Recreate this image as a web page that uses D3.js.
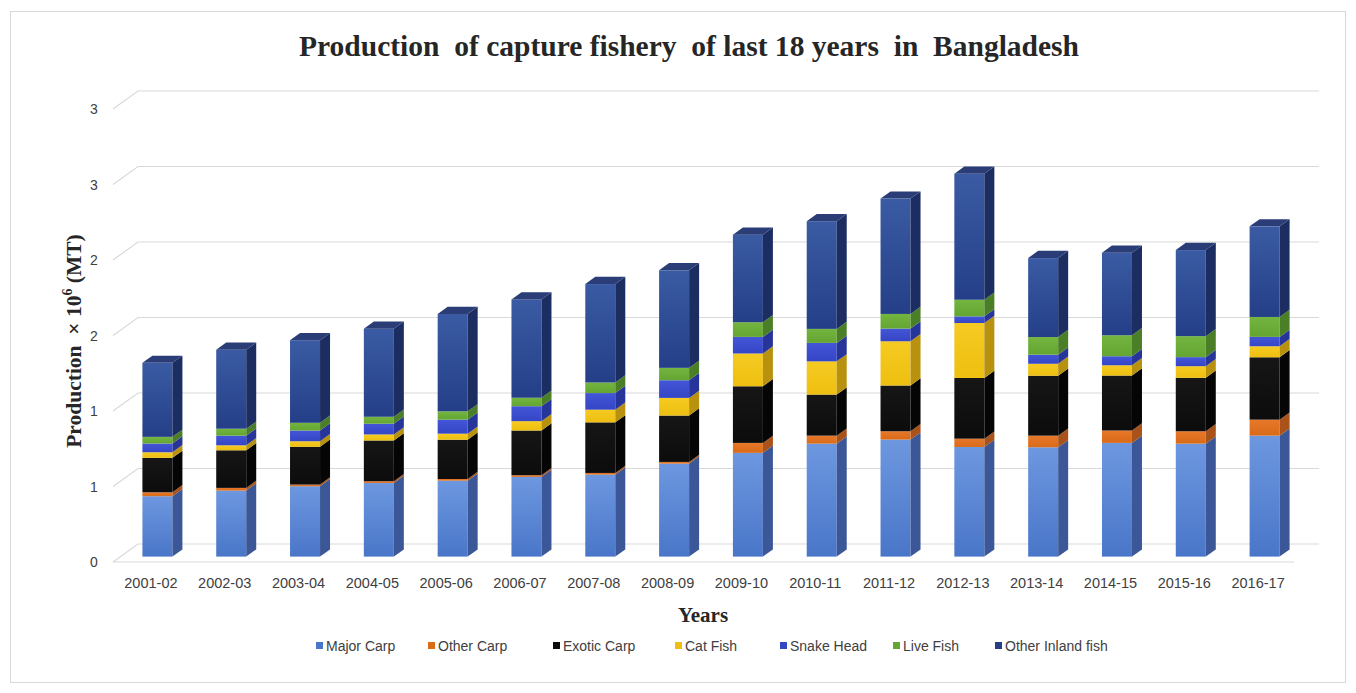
<!DOCTYPE html>
<html>
<head>
<meta charset="utf-8">
<script src="https://cdn.jsdelivr.net/npm/d3@7"></script>
<style>
  body { margin: 0; background: #fff; }
  svg { display: block; }
</style>
</head>
<body>
<div class="fish-chart"></div>
<script>
// years on the x axis
const years = ["2001-02","2002-03","2003-04","2004-05","2005-06","2006-07","2007-08","2008-09",
               "2009-10","2010-11","2011-12","2012-13","2013-14","2014-15","2015-16","2016-17"];

// production x 10^6 MT
const majorCarp   = [0.400,0.437,0.466,0.488,0.503,0.528,0.543,0.616,0.687,0.748,0.775,0.726,0.724,0.753,0.748,0.801];
const otherCarp   = [0.026,0.018,0.011,0.011,0.011,0.011,0.011,0.011,0.066,0.053,0.055,0.055,0.077,0.082,0.082,0.106];
const exoticCarp  = [0.228,0.249,0.250,0.270,0.260,0.296,0.335,0.307,0.375,0.272,0.303,0.402,0.397,0.364,0.354,0.413];
const catFish     = [0.037,0.033,0.037,0.040,0.040,0.062,0.084,0.117,0.217,0.220,0.293,0.364,0.079,0.068,0.077,0.073];
const snakeHead   = [0.058,0.064,0.071,0.071,0.093,0.099,0.110,0.117,0.110,0.122,0.084,0.044,0.060,0.060,0.060,0.062];
const liveFish    = [0.044,0.046,0.051,0.046,0.055,0.056,0.070,0.082,0.097,0.093,0.097,0.110,0.117,0.139,0.139,0.132];
const otherInland = [0.490,0.523,0.547,0.583,0.645,0.651,0.652,0.646,0.580,0.713,0.764,0.834,0.523,0.546,0.570,0.600];

const seriesNames = ["Major Carp","Other Carp","Exotic Carp","Cat Fish","Snake Head","Live Fish","Other Inland fish"];
const seriesValues = [majorCarp, otherCarp, exoticCarp, catFish, snakeHead, liveFish, otherInland];

// y ticks (the source rounds its labels)
const yTicks = [0, 0.5, 1, 1.5, 2, 2.5, 3];
const yTickLabels = ["0","1","1","2","2","3","3"];

// colours: front face (light, dark for gradient), side face
const frontTop  = ["#6d97df","#e8782a","#161616","#f5ca22","#4456d8","#74b540","#3a5ba3"];
const frontBot  = ["#4a76c9","#d86a18","#0c0c0c","#eebf10","#3446c4","#64a533","#243f88"];
const sideCol   = ["#3b5797","#a9521a","#050505","#b8920e","#27349a","#4b7f27","#1c2d62"];
const topCol    = "#2a3d76";

const width = 1356, height = 693;
const svg = d3.select(".fish-chart").append("svg")
  .attr("width", width)
  .attr("height", height)
  .attr("viewBox", [0, 0, width, height]);

// chart frame
svg.append("rect")
  .attr("x", 10.5).attr("y", 11.5)
  .attr("width", 1335).attr("height", 671)
  .attr("fill", "#fff")
  .attr("stroke", "#d9d9d9");

// 3d layout: front floor line and depth offset
const left = 113, right = 1294;
const depthX = 25, depthY = 18;

const x = d3.scaleBand().domain(years).range([left, right]).padding(0);
const y = d3.scaleLinear().domain([0, 3]).range([562, 109]);

// gridlines on the back wall with the diagonal on the left side wall
svg.append("g").selectAll("path")
  .data(yTicks)
  .join("path")
  .attr("d", t => `M${left},${y(t)} L${left + depthX},${y(t) - depthY} L${right + depthX},${y(t) - depthY}`)
  .attr("fill", "none")
  .attr("stroke", "#d9d9d9")
  .attr("stroke-width", 1.2);

// front edge of the floor
svg.append("line")
  .attr("x1", left).attr("x2", right)
  .attr("y1", y(0)).attr("y2", y(0))
  .attr("stroke", "#d9d9d9")
  .attr("stroke-width", 1.2);

// y tick labels
svg.append("g").selectAll("text")
  .data(yTicks)
  .join("text")
  .attr("x", 94)
  .attr("y", t => y(t) + 5)
  .attr("text-anchor", "middle")
  .attr("font-family", "Liberation Sans, Arial, sans-serif")
  .attr("font-size", 14)
  .attr("fill", "#404040")
  .text((t, i) => yTickLabels[i]);

// x tick labels
svg.append("g").selectAll("text")
  .data(years)
  .join("text")
  .attr("x", d => x(d) + x.bandwidth() / 2 + 1)
  .attr("y", 588)
  .attr("text-anchor", "middle")
  .attr("font-family", "Liberation Sans, Arial, sans-serif")
  .attr("font-size", 14.5)
  .attr("fill", "#404040")
  .text(d => d);

// gradients for the front faces
const defs = svg.append("defs");
seriesNames.forEach((s, k) => {
  const g = defs.append("linearGradient")
    .attr("id", `grad-${k}`)
    .attr("x1", 0).attr("y1", 0).attr("x2", 0).attr("y2", 1);
  g.append("stop").attr("offset", "0%").attr("stop-color", frontTop[k]);
  g.append("stop").attr("offset", "100%").attr("stop-color", frontBot[k]);
});

// stacked data
const table = years.map((yr, i) => {
  const row = { year: yr };
  seriesNames.forEach((s, k) => row[s] = seriesValues[k][i]);
  return row;
});
const stacked = d3.stack().keys(seriesNames)(table);

// bar sits in the middle of the depth
const z0 = 0.3, zDepth = 0.4;
const barW = 30;
const offX = depthX * z0, offY = depthY * z0;
const sideX = depthX * zDepth, sideY = depthY * zDepth;

const bars = svg.append("g");
years.forEach((yr, i) => {
  const bx = x(yr) + x.bandwidth() / 2 - barW / 2 + offX;
  const g = bars.append("g").attr("class", "bar");
  stacked.forEach((layer, k) => {
    const d = layer[i];
    const yTop = y(d[1]) - offY, yBot = y(d[0]) - offY;
    // front face
    g.append("rect")
      .attr("x", bx).attr("y", yTop)
      .attr("width", barW).attr("height", Math.max(0, yBot - yTop))
      .attr("fill", `url(#grad-${k})`);
    // right side face
    g.append("path")
      .attr("d", `M${bx + barW},${yTop} L${bx + barW + sideX},${yTop - sideY} L${bx + barW + sideX},${yBot - sideY} L${bx + barW},${yBot} Z`)
      .attr("fill", sideCol[k]);
    // top face only on the last layer
    if (k === stacked.length - 1) {
      g.append("path")
        .attr("d", `M${bx},${yTop} L${bx + sideX},${yTop - sideY} L${bx + barW + sideX},${yTop - sideY} L${bx + barW},${yTop} Z`)
        .attr("fill", topCol);
    }
  });
});

// title (condensed serif in the source)
svg.append("text")
  .attr("x", 689)
  .attr("y", 56)
  .attr("text-anchor", "middle")
  .attr("font-family", "Liberation Serif, Times New Roman, serif")
  .attr("font-weight", "bold")
  .attr("font-size", 30)
  .attr("textLength", 780)
  .attr("lengthAdjust", "spacingAndGlyphs")
  .attr("fill", "#262626")
  .text("Production  of capture fishery  of last 18 years  in  Bangladesh")
  .style("white-space", "pre");

// y axis title
const yTitle = svg.append("text")
  .attr("transform", "translate(81,341) rotate(-90)")
  .attr("text-anchor", "middle")
  .attr("font-family", "Liberation Serif, Times New Roman, serif")
  .attr("font-weight", "bold")
  .attr("font-size", 21.5)
  .attr("fill", "#262626");
yTitle.append("tspan").text("Production  × 10");
yTitle.append("tspan").attr("dy", -9).attr("font-size", 14).text("6");
yTitle.append("tspan").attr("dy", 9).text(" (MT)");
yTitle.style("white-space", "pre");

// x axis title
svg.append("text")
  .attr("x", 703)
  .attr("y", 622)
  .attr("text-anchor", "middle")
  .attr("font-family", "Liberation Serif, Times New Roman, serif")
  .attr("font-weight", "bold")
  .attr("font-size", 21)
  .attr("fill", "#262626")
  .text("Years");

// legend
const legendX = [316, 428, 553, 675, 780, 893, 995];
const legend = svg.append("g").selectAll("g")
  .data(seriesNames)
  .join("g")
  .attr("transform", (d, k) => `translate(${legendX[k]},646)`);
legend.append("rect")
  .attr("x", 0).attr("y", -4)
  .attr("width", 7).attr("height", 7)
  .attr("fill", (d, k) => frontBot[k]);
legend.append("text")
  .attr("x", 10)
  .attr("y", 5)
  .attr("font-family", "Liberation Sans, Arial, sans-serif")
  .attr("font-size", 14)
  .attr("fill", "#404040")
  .text(d => d);
</script>
</body>
</html>
